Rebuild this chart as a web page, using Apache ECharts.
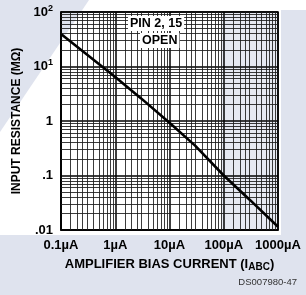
<!DOCTYPE html>
<html>
<head>
<meta charset="utf-8">
<script src="https://cdn.jsdelivr.net/npm/echarts@6/dist/echarts.min.js"></script>
<style>
  html, body { margin: 0; padding: 0; background: #dfe3ee; }
  #chart { width: 306px; height: 295px; }
</style>
</head>
<body>
<div id="chart"></div>
<script>
const currents = [0.1, 0.3, 1, 3, 10, 30, 100, 300, 1000];          // µA
const resistances = [39.5, 16.6, 6.4, 2.6, 0.93, 0.35, 0.1, 0.036, 0.0115]; // MΩ

const xTickValues = [0.1, 1, 10, 100, 1000];
const xTickLabels = ['0.1µA', '1µA', '10µA', '100µA', '1000µA'];
const yTickValues = [0.01, 0.1, 1, 10, 100];
const yTickLabels = ['.01', '.1', '1', '10{s|1}', '10{s|2}'];

const xDecades = [0.1, 1, 10, 100];
const xSteps = [1.5, 2, 2.5, 3, 4, 5, 6, 7, 8, 9];
const yDecades = [0.01, 0.1, 1, 10];
const ySteps = [2, 3, 4, 5, 6, 7, 8, 9];

const FONT = "'Liberation Sans', Arial, sans-serif";
const BG = '#dfe3ee';

function findLabel(values, labels, v) {
  for (let i = 0; i < values.length; i++) {
    if (Math.abs(Math.log10(v) - Math.log10(values[i])) < 1e-6) return labels[i];
  }
  return '';
}

let gridLines = [];
xDecades.forEach(d => xSteps.forEach(s => gridLines.push({ xAxis: +(d * s).toPrecision(3) })));
yDecades.forEach(d => ySteps.forEach(s => gridLines.push({ yAxis: +(d * s).toPrecision(3) })));

let chart = echarts.init(document.getElementById('chart'));
let option = {
  animation: false,
  backgroundColor: BG,
  grid: {
    left: 61, top: 12, right: 28, bottom: 65,
    show: true,
    borderColor: '#000',
    borderWidth: 1.5,
    backgroundColor: 'transparent'
  },
  graphic: [
    { type: 'rect', silent: true, z: -100, shape: { x: 0, y: 0, width: 281, height: 235 }, style: { fill: '#fff' } },
    { type: 'rect', silent: true, z: -100, shape: { x: 0, y: 0, width: 306, height: 10 }, style: { fill: '#fff' } },
    { type: 'polygon', silent: true, z: -99, shape: { points: [[0, 0], [89, 0], [0, 132]] }, style: { fill: BG } },
    { type: 'rect', silent: true, z: -99, shape: { x: 222, y: 12, width: 56, height: 218 }, style: { fill: '#e6e9f2' } },
    {
      type: 'text', z: 100, left: 128, top: 16,
      style: { text: 'PIN 2, 15', font: "bold 12.5px " + FONT, fill: '#000', backgroundColor: '#fff', padding: [1, 2, 1, 2] }
    },
    {
      type: 'text', z: 100, left: 140, top: 33,
      style: { text: 'OPEN', font: "bold 12.5px " + FONT, fill: '#000', backgroundColor: '#fff', padding: [1, 2, 1, 2] }
    },
    {
      type: 'text', z: 100, right: 9, top: 277,
      style: { text: 'DS007980-47', font: "9.5px " + FONT, fill: '#333' }
    }
  ],
  xAxis: {
    type: 'log',
    logBase: 10,
    min: 0.1,
    max: 1000,
    name: 'AMPLIFIER BIAS CURRENT (I{sub|ABC})',
    nameLocation: 'middle',
    nameGap: 26,
    nameTextStyle: {
      fontFamily: FONT, fontWeight: 'bold', fontSize: 13, color: '#000',
      rich: { sub: { fontFamily: FONT, fontWeight: 'bold', fontSize: 10, color: '#000', padding: [6, 0, 0, 0] } }
    },
    axisLine: { lineStyle: { color: '#000', width: 1.5 } },
    axisTick: { show: false },
    axisLabel: {
      margin: 9,
      fontFamily: FONT, fontWeight: 'bold', fontSize: 13, color: '#000',
      formatter: v => findLabel(xTickValues, xTickLabels, v)
    },
    splitLine: { show: true, lineStyle: { color: '#000', width: 1.5 } }
  },
  yAxis: {
    type: 'log',
    logBase: 10,
    min: 0.01,
    max: 100,
    name: 'INPUT RESISTANCE (MΩ)',
    nameLocation: 'middle',
    nameGap: 29,
    nameTextStyle: { fontFamily: FONT, fontWeight: 'bold', fontSize: 12, color: '#000' },
    axisLine: { lineStyle: { color: '#000', width: 1.5 } },
    axisTick: { show: false },
    axisLabel: {
      margin: 8,
      fontFamily: FONT, fontWeight: 'bold', fontSize: 13, color: '#000',
      formatter: v => findLabel(yTickValues, yTickLabels, v),
      rich: { s: { fontFamily: FONT, fontWeight: 'bold', fontSize: 9, color: '#000', padding: [0, 0, 7, 0] } }
    },
    splitLine: { show: true, lineStyle: { color: '#000', width: 1.5 } }
  },
  series: [
    {
      type: 'line',
      data: currents.map((c, i) => [c, resistances[i]]),
      symbol: 'none',
      lineStyle: { color: '#000', width: 2.6 },
      z: 5,
      markLine: {
        silent: true,
        symbol: ['none', 'none'],
        label: { show: false },
        lineStyle: { color: '#1a1a1a', width: 1, type: 'solid', opacity: 0.85 },
        emphasis: { disabled: true },
        data: gridLines
      }
    }
  ]
};
chart.setOption(option);
</script>
</body>
</html>
